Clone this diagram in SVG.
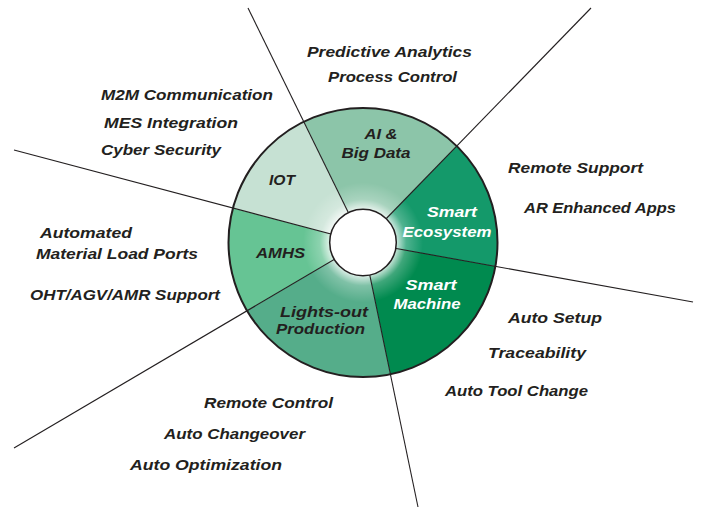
<svg xmlns="http://www.w3.org/2000/svg" width="702" height="508" viewBox="0 0 702 508">
<style>
text{font-family:"Liberation Sans","Open Sans",sans-serif;font-style:italic;font-weight:700;font-size:15px;fill:#231f20}
.w{fill:#ffffff}
.c{text-anchor:middle}
.ray{stroke:#231f20;stroke-width:1.1;fill:none}
</style>
<defs>
<radialGradient id="glow" gradientUnits="userSpaceOnUse" cx="363" cy="242.5" r="60">
<stop offset="0.55" stop-color="#ffffff" stop-opacity="0.8"/>
<stop offset="0.72" stop-color="#ffffff" stop-opacity="0.25"/>
<stop offset="1" stop-color="#ffffff" stop-opacity="0"/>
</radialGradient>
</defs>
<rect width="702" height="508" fill="#ffffff"/>
<g id="sectors">
<g id="ai"><path d="M363 242.5 L303.83 121.72 A134.5 134.5 0 0 1 456.77 146.08 Z" fill="#8cc5a9"/></g>
<g id="ecosystem"><path d="M363 242.5 L456.77 146.08 A134.5 134.5 0 0 1 495.38 266.32 Z" fill="#14996a"/></g>
<g id="machine"><path d="M363 242.5 L495.38 266.32 A134.5 134.5 0 0 1 390.28 374.2 Z" fill="#008a4f"/></g>
<g id="lightsout"><path d="M363 242.5 L390.28 374.2 A134.5 134.5 0 0 1 247.11 310.76 Z" fill="#55ad8a"/></g>
<g id="amhs"><path d="M363 242.5 L247.11 310.76 A134.5 134.5 0 0 1 232.97 208.15 Z" fill="#66c494"/></g>
<g id="iot"><path d="M363 242.5 L232.97 208.15 A134.5 134.5 0 0 1 303.83 121.72 Z" fill="#c6e1d3"/></g>
<circle cx="363" cy="242.5" r="60" fill="url(#glow)"/>
</g>
<g id="connectors">
<line class="ray" x1="363" y1="242.5" x2="248" y2="8"/>
<line class="ray" x1="363" y1="242.5" x2="14" y2="150"/>
<line class="ray" x1="363" y1="242.5" x2="591" y2="8"/>
<line class="ray" x1="363" y1="242.5" x2="693" y2="302"/>
<line class="ray" x1="363" y1="242.5" x2="418" y2="507"/>
<line class="ray" x1="363" y1="242.5" x2="14" y2="448"/>
</g>
<circle cx="363" cy="242.5" r="134.5" fill="none" stroke="#231f20" stroke-width="2"/>
<circle cx="363" cy="242.5" r="33.3" fill="#ffffff" stroke="#231f20" stroke-width="1.5"/>
<g id="ring-labels">
<text class="c" x="381" y="139" textLength="33" lengthAdjust="spacingAndGlyphs">AI &amp;</text>
<text class="c" x="376" y="158" textLength="69" lengthAdjust="spacingAndGlyphs">Big Data</text>
<text class="c w" x="452" y="217" textLength="50" lengthAdjust="spacingAndGlyphs">Smart</text>
<text class="c w" x="447" y="237" textLength="89" lengthAdjust="spacingAndGlyphs">Ecosystem</text>
<text class="c w" x="431" y="290" textLength="51" lengthAdjust="spacingAndGlyphs">Smart</text>
<text class="c w" x="427" y="309" textLength="67" lengthAdjust="spacingAndGlyphs">Machine</text>
<text class="c" x="324" y="317" textLength="88" lengthAdjust="spacingAndGlyphs">Lights-out</text>
<text class="c" x="320.5" y="334" textLength="89" lengthAdjust="spacingAndGlyphs">Production</text>
<text class="c" x="280.5" y="258" textLength="49" lengthAdjust="spacingAndGlyphs">AMHS</text>
<text class="c" x="282" y="185" textLength="26" lengthAdjust="spacingAndGlyphs">IOT</text>
</g>
<g id="outer-labels">
<text x="307" y="57" textLength="165" lengthAdjust="spacingAndGlyphs">Predictive Analytics</text>
<text x="328" y="82" textLength="129" lengthAdjust="spacingAndGlyphs">Process Control</text>
<text x="101" y="100" textLength="172" lengthAdjust="spacingAndGlyphs">M2M Communication</text>
<text x="104" y="128" textLength="134" lengthAdjust="spacingAndGlyphs">MES Integration</text>
<text x="101" y="155" textLength="120" lengthAdjust="spacingAndGlyphs">Cyber Security</text>
<text x="508" y="173" textLength="135" lengthAdjust="spacingAndGlyphs">Remote Support</text>
<text x="524" y="213" textLength="152" lengthAdjust="spacingAndGlyphs">AR Enhanced Apps</text>
<text x="40" y="238" textLength="92" lengthAdjust="spacingAndGlyphs">Automated</text>
<text x="36" y="259" textLength="162" lengthAdjust="spacingAndGlyphs">Material Load Ports</text>
<text x="30" y="300" textLength="190" lengthAdjust="spacingAndGlyphs">OHT/AGV/AMR Support</text>
<text x="508" y="323" textLength="94" lengthAdjust="spacingAndGlyphs">Auto Setup</text>
<text x="488" y="358" textLength="98" lengthAdjust="spacingAndGlyphs">Traceability</text>
<text x="445" y="396" textLength="143" lengthAdjust="spacingAndGlyphs">Auto Tool Change</text>
<text x="204" y="408" textLength="129" lengthAdjust="spacingAndGlyphs">Remote Control</text>
<text x="164" y="439" textLength="141" lengthAdjust="spacingAndGlyphs">Auto Changeover</text>
<text x="130" y="470" textLength="152" lengthAdjust="spacingAndGlyphs">Auto Optimization</text>
</g>
</svg>
